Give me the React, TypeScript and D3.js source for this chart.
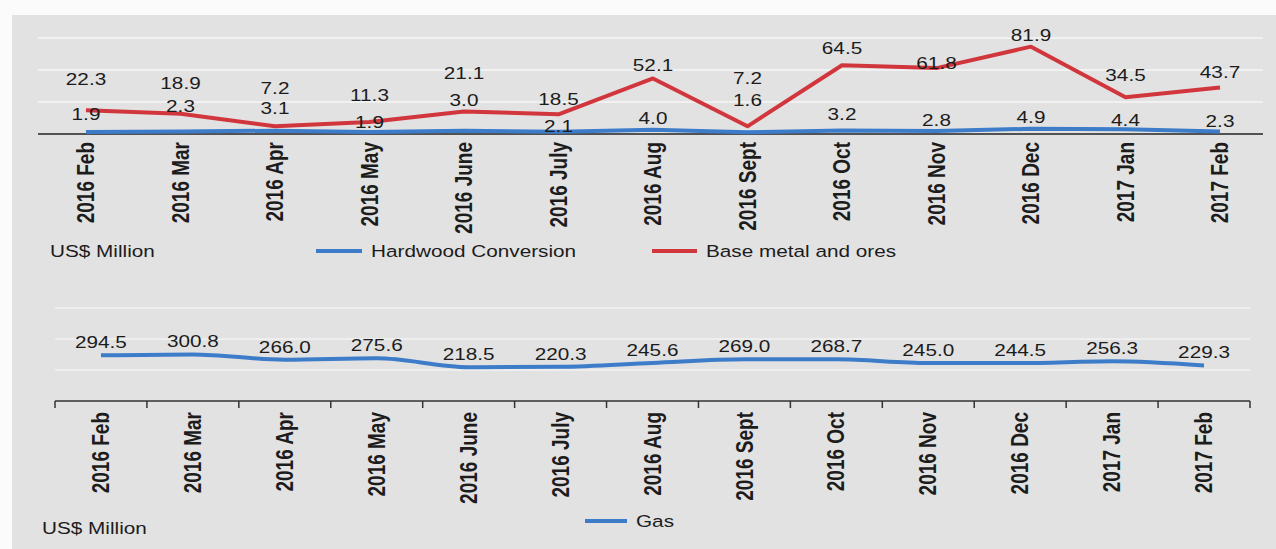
import React from 'react';
import { scaleLinear, scalePoint, scaleBand, line, curveMonotoneX } from 'd3';

// months shared by both panels
const months = ['2016 Feb', '2016 Mar', '2016 Apr', '2016 May', '2016 June', '2016 July', '2016 Aug', '2016 Sept', '2016 Oct', '2016 Nov', '2016 Dec', '2017 Jan', '2017 Feb'];

const hardwood = [1.9, 2.3, 3.1, 1.9, 3.0, 2.1, 4.0, 1.6, 3.2, 2.8, 4.9, 4.4, 2.3];
const baseMetal = [22.3, 18.9, 7.2, 11.3, 21.1, 18.5, 52.1, 7.2, 64.5, 61.8, 81.9, 34.5, 43.7];
const gas = [294.5, 300.8, 266.0, 275.6, 218.5, 220.3, 245.6, 269.0, 268.7, 245.0, 244.5, 256.3, 229.3];

const topGrid = [30, 60, 90];
const gasGrid = [200, 400, 600];

// hand placed value labels in the source (pixels above the point)
const baseMetalLift = [31, 31, 38, 27, 38, 15, 13, 48, 17, 5, 12, 22, 15];
const hardwoodLift = [18, 26, 23, 10, 31, 6, 12, 32, 17, 11, 12, 9, 11];
const gasLift = 13;

const W = 1276;
const H = 549;
const SX = 1.22; // source image is stretched sideways
const FONT = 'Arial, "Liberation Sans", sans-serif';
const RED = '#d2363d';
const BLUE = '#3d7cc8';
const INK = '#1c1c1c';

function Txt({ x, y, children, size = 17, bold = false, rotate = false, anchor = 'middle' }: any) {
  const t = `translate(${x},${y}) scale(${SX},1)${rotate ? ' rotate(-90)' : ''}`;
  return (
    <text transform={t} textAnchor={anchor} dy="0.35em" fontSize={size}
      fontWeight={bold ? 700 : 400} fill={INK} fontFamily={FONT}>
      {children}
    </text>
  );
}

export default function App() {
  // top panel
  const x1 = scalePoint<string>().domain(months).range([86, 1220]);
  const y1 = scaleLinear().domain([0, 90]).range([134, 38]);
  const ln1 = line<number>().x((_, i) => x1(months[i])!).y(d => y1(d));

  // bottom panel
  const x2 = scaleBand<string>().domain(months).range([55, 1250]);
  const y2 = scaleLinear().domain([0, 600]).range([401, 308]);
  const cx2 = (i: number) => x2(months[i])! + x2.bandwidth() / 2;
  const ln2 = line<number>().x((_, i) => cx2(i)).y(d => y2(d)).curve(curveMonotoneX);

  return (
    <svg width={W} height={H} style={{ position: 'absolute', left: 0, top: 0, display: 'block' }}>
      <rect x={0} y={0} width={W} height={H} fill="#fbfbfb" />
      <rect x={12} y={15} width={W - 12} height={H - 15} fill="#e2e2e2" />

      {/* top chart */}
      {topGrid.map(v => (
        <line key={v} x1={38} x2={1263} y1={y1(v)} y2={y1(v)} stroke="#f1f1f1" strokeWidth={2} />
      ))}
      <line x1={38} x2={1263} y1={y1(0)} y2={y1(0)} stroke="#222" strokeWidth={1.5} />
      <path d={ln1(hardwood)!} fill="none" stroke={BLUE} strokeWidth={4} />
      <path d={ln1(baseMetal)!} fill="none" stroke={RED} strokeWidth={4} strokeLinejoin="round" />
      {baseMetal.map((v, i) => (
        <Txt key={'b' + i} x={x1(months[i])} y={y1(v) - baseMetalLift[i]}>{v.toFixed(1)}</Txt>
      ))}
      {hardwood.map((v, i) => (
        <Txt key={'h' + i} x={x1(months[i])} y={y1(v) - hardwoodLift[i]}>{v.toFixed(1)}</Txt>
      ))}
      {months.map(m => (
        <Txt key={m} x={x1(m)} y={142} size={19} bold rotate anchor="end">{m}</Txt>
      ))}
      <Txt x={50} y={251} anchor="start">US$ Million</Txt>
      <line x1={316} x2={362} y1={251} y2={251} stroke={BLUE} strokeWidth={4} />
      <Txt x={371} y={251} anchor="start">Hardwood Conversion</Txt>
      <line x1={652} x2={697} y1={251} y2={251} stroke={RED} strokeWidth={4} />
      <Txt x={706} y={251} anchor="start">Base metal and ores</Txt>

      {/* bottom chart */}
      {gasGrid.map(v => (
        <line key={v} x1={55} x2={1250} y1={y2(v)} y2={y2(v)} stroke="#eeeeee" strokeWidth={2} />
      ))}
      <line x1={55} x2={1250} y1={y2(0)} y2={y2(0)} stroke="#333" strokeWidth={1.5} />
      {[...months.map(m => x2(m)!), 1250].map((t, i) => (
        <line key={i} x1={t} x2={t} y1={y2(0)} y2={y2(0) + 7} stroke="#333" strokeWidth={1.5} />
      ))}
      <path d={ln2(gas)!} fill="none" stroke={BLUE} strokeWidth={4} />
      {gas.map((v, i) => (
        <Txt key={'g' + i} x={cx2(i)} y={y2(v) - gasLift}>{v.toFixed(1)}</Txt>
      ))}
      {months.map((m, i) => (
        <Txt key={'x' + m} x={cx2(i)} y={412} size={19} bold rotate anchor="end">{m}</Txt>
      ))}
      <Txt x={42} y={528} anchor="start">US$ Million</Txt>
      <line x1={585} x2={627} y1={521} y2={521} stroke={BLUE} strokeWidth={4} />
      <Txt x={636} y={521} anchor="start">Gas</Txt>
    </svg>
  );
}
